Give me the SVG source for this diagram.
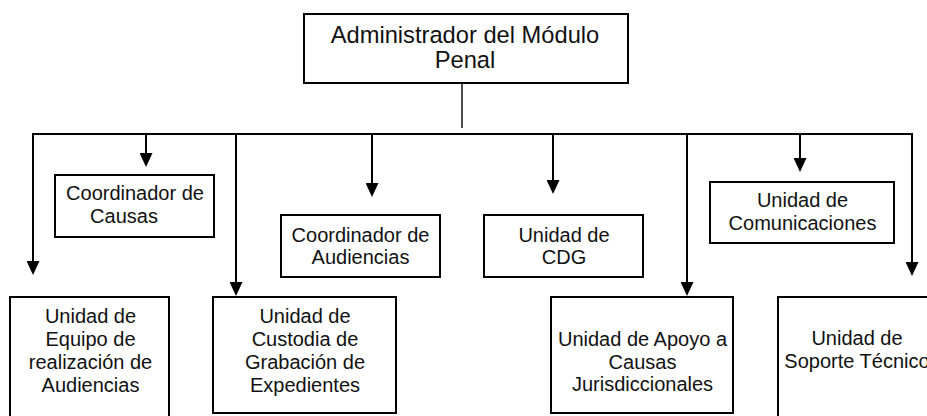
<svg xmlns="http://www.w3.org/2000/svg" width="927" height="416" viewBox="0 0 927 416">
<defs>
<marker id="arr" markerUnits="userSpaceOnUse" markerWidth="14" markerHeight="13" refX="2" refY="6.5" orient="auto">
<path d="M0,0 L14,6.5 L0,13 z" fill="#000"/>
</marker>
</defs>
<style>
.box{fill:#fff;stroke:#000;stroke-width:2}
.t{font-family:"Liberation Sans",Arial,sans-serif;font-size:20px;fill:#111;text-anchor:middle}
.tt{font-size:23.7px}
.c{fill:none;stroke:#000;stroke-width:2}
.a{marker-end:url(#arr)}
</style>
<rect width="927" height="416" fill="#fff"/>
<g id="connectors">
<line class="c" x1="462" y1="83" x2="462" y2="128" style="stroke-width:1.4"/>
<line class="c" x1="32" y1="134" x2="913" y2="134"/>
<line class="c a" x1="33" y1="134" x2="33" y2="263"/>
<line class="c a" x1="146" y1="134" x2="146" y2="155"/>
<line class="c a" x1="236" y1="134" x2="236" y2="284"/>
<line class="c a" x1="372" y1="134" x2="372" y2="185"/>
<line class="c a" x1="553" y1="134" x2="553" y2="182"/>
<line class="c a" x1="687" y1="134" x2="687" y2="284"/>
<line class="c a" x1="800" y1="134" x2="800" y2="160"/>
<line class="c a" x1="912" y1="134" x2="912" y2="264"/>
</g>
<g id="admin">
<rect class="box" x="304" y="14" width="324" height="69"/>
<text class="t tt" x="465" y="43">Administrador del Módulo</text>
<text class="t tt" x="465" y="68">Penal</text>
</g>
<g id="coord-causas">
<rect class="box" x="55" y="175" width="159" height="62"/>
<text class="t" x="135" y="200">Coordinador de</text>
<text class="t" x="124" y="223">Causas</text>
</g>
<g id="coord-audiencias">
<rect class="box" x="281" y="215" width="159" height="62"/>
<text class="t" x="360.5" y="241.5">Coordinador de</text>
<text class="t" x="360.5" y="264">Audiencias</text>
</g>
<g id="cdg">
<rect class="box" x="484" y="215" width="159" height="62"/>
<text class="t" x="564" y="241.5">Unidad de</text>
<text class="t" x="564" y="264">CDG</text>
</g>
<g id="comunicaciones">
<rect class="box" x="710" y="182" width="184" height="61"/>
<text class="t" x="802.5" y="207">Unidad de</text>
<text class="t" x="802.5" y="230">Comunicaciones</text>
</g>
<g id="equipo">
<rect class="box" x="10" y="297" width="159" height="130"/>
<text class="t" x="90.5" y="322.5">Unidad de</text>
<text class="t" x="90.5" y="346">Equipo de</text>
<text class="t" x="90.5" y="369">realización de</text>
<text class="t" x="90.5" y="392">Audiencias</text>
</g>
<g id="custodia">
<rect class="box" x="213" y="297" width="183" height="116"/>
<text class="t" x="305" y="322.5">Unidad de</text>
<text class="t" x="305" y="346">Custodia de</text>
<text class="t" x="305" y="369">Grabación de</text>
<text class="t" x="305" y="392">Expedientes</text>
</g>
<g id="apoyo">
<rect class="box" x="551" y="297" width="182" height="116"/>
<text class="t" x="642.5" y="345.5">Unidad de Apoyo a</text>
<text class="t" x="642.5" y="368.5">Causas</text>
<text class="t" x="642.5" y="391">Jurisdiccionales</text>
</g>
<g id="soporte">
<rect class="box" x="778" y="297" width="190" height="130"/>
<text class="t" x="857" y="345">Unidad de</text>
<text class="t" x="857" y="368">Soporte Técnico</text>
</g>
</svg>
